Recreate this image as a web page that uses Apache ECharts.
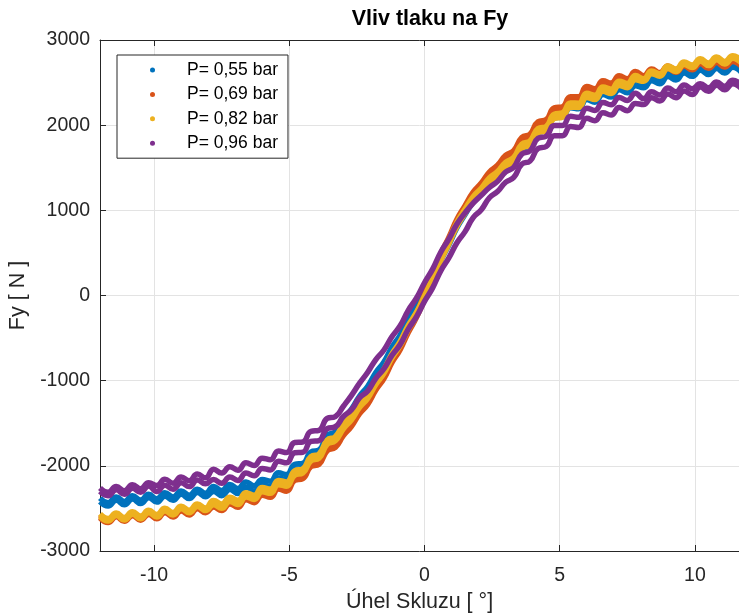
<!DOCTYPE html>
<html>
<head>
<meta charset="utf-8">
<script src="https://cdn.jsdelivr.net/npm/echarts@6/dist/echarts.min.js"></script>
<style>
html,body{margin:0;padding:0;background:#ffffff;}
#chart{width:739px;height:614px;}
</style>
</head>
<body>
<div id="chart"></div>
<script>
// Slip angle sample points [deg]
const slipAngle = [-12,-11.7,-11.4,-11.1,-10.8,-10.5,-10.2,-9.9,-9.6,-9.3,-9,-8.7,-8.4,-8.1,-7.8,-7.5,-7.2,-6.9,-6.6,-6.3,-6,-5.7,-5.4,-5.1,-4.8,-4.5,-4.2,-3.9,-3.6,-3.3,-3,-2.7,-2.4,-2.1,-1.8,-1.5,-1.2,-0.9,-0.6,-0.3,0,0.3,0.6,0.9,1.2,1.5,1.8,2.1,2.4,2.7,3,3.3,3.6,3.9,4.2,4.5,4.8,5.1,5.4,5.7,6,6.3,6.6,6.9,7.2,7.5,7.8,8.1,8.4,8.7,9,9.3,9.6,9.9,10.2,10.5,10.8,11.1,11.4,11.7];

const seriesNames = ['P= 0,55 bar','P= 0,69 bar','P= 0,82 bar','P= 0,96 bar'];

// Fy [N], upper and lower branch of each hysteresis loop
const fy055Up = [-2380,-2432,-2365,-2418,-2350,-2402,-2335,-2386,-2316,-2365,-2295,-2344,-2274,-2323,-2242,-2290,-2218,-2265,-2190,-2235,-2160,-2181,-2082,-2103,-1982,-1970,-1838,-1814,-1646,-1598,-1450,-1335,-1180,-1065,-904,-780,-604,-464,-276,-128,60,244,468,652,856,1010,1156,1254,1376,1454,1570,1626,1782,1818,1970,2000,2144,2156,2264,2252,2360,2330,2420,2390,2476,2440,2524,2478,2562,2526,2610,2571,2652,2613,2686,2635,2704,2652,2719,2665];
const fy055Down = [-2420,-2472,-2405,-2458,-2390,-2442,-2375,-2426,-2356,-2405,-2335,-2384,-2314,-2363,-2302,-2350,-2278,-2325,-2250,-2295,-2220,-2241,-2142,-2163,-2042,-2030,-1898,-1874,-1706,-1658,-1510,-1395,-1240,-1125,-964,-840,-664,-524,-336,-188,0,184,408,592,796,950,1096,1194,1316,1394,1510,1566,1722,1758,1910,1940,2084,2096,2204,2192,2300,2270,2360,2330,2416,2380,2464,2438,2522,2486,2570,2531,2612,2573,2646,2595,2664,2612,2679,2625];

const fy069Up = [-2580,-2634,-2568,-2622,-2555,-2608,-2540,-2592,-2521,-2571,-2500,-2547,-2473,-2520,-2433,-2475,-2397,-2436,-2349,-2382,-2295,-2319,-2223,-2247,-2121,-2100,-1959,-1932,-1773,-1734,-1595,-1486,-1337,-1228,-1061,-925,-737,-585,-385,-209,15,235,487,683,895,1055,1213,1321,1449,1529,1645,1701,1857,1893,2041,2065,2203,2215,2335,2335,2455,2428,2521,2494,2581,2545,2629,2581,2659,2617,2695,2650,2725,2680,2750,2698,2765,2712,2779,2725];
const fy069Down = [-2610,-2664,-2598,-2652,-2585,-2638,-2570,-2622,-2551,-2601,-2530,-2577,-2503,-2550,-2483,-2525,-2447,-2486,-2399,-2432,-2345,-2369,-2273,-2297,-2171,-2150,-2009,-1982,-1823,-1784,-1645,-1536,-1387,-1278,-1111,-975,-787,-635,-435,-259,-35,185,437,633,845,1005,1163,1271,1399,1479,1595,1651,1807,1843,1991,2015,2153,2165,2285,2285,2405,2378,2471,2444,2531,2495,2579,2551,2629,2587,2665,2620,2695,2650,2720,2668,2735,2682,2749,2695];

const fy082Up = [-2565,-2619,-2553,-2607,-2539,-2590,-2521,-2571,-2499,-2547,-2475,-2522,-2448,-2495,-2407,-2448,-2368,-2405,-2315,-2345,-2255,-2273,-2171,-2189,-2059,-2035,-1891,-1861,-1699,-1657,-1515,-1409,-1263,-1157,-995,-865,-683,-539,-351,-199,-5,209,457,653,861,1015,1161,1259,1381,1455,1565,1621,1777,1813,1961,1985,2129,2144,2261,2258,2375,2351,2447,2423,2517,2490,2583,2545,2635,2605,2695,2659,2743,2707,2781,2730,2799,2748,2816,2765];
const fy082Down = [-2595,-2649,-2583,-2637,-2569,-2620,-2551,-2601,-2529,-2577,-2505,-2552,-2478,-2525,-2457,-2498,-2418,-2455,-2365,-2395,-2305,-2323,-2221,-2239,-2109,-2085,-1941,-1911,-1749,-1707,-1565,-1459,-1313,-1207,-1045,-915,-733,-589,-401,-249,-55,159,407,603,811,965,1111,1209,1331,1405,1515,1571,1727,1763,1911,1935,2079,2094,2211,2208,2325,2301,2397,2373,2467,2440,2533,2515,2605,2575,2665,2629,2713,2677,2751,2700,2769,2718,2786,2735];

const fy096Up = [-2260,-2311,-2242,-2293,-2222,-2270,-2198,-2231,-2157,-2204,-2130,-2174,-2097,-2141,-2040,-2085,-2010,-2051,-1964,-1997,-1910,-1928,-1826,-1844,-1726,-1720,-1594,-1583,-1442,-1421,-1300,-1172,-1029,-901,-752,-640,-482,-356,-174,-32,150,310,508,662,840,970,1085,1177,1268,1340,1450,1506,1662,1698,1846,1870,1996,1996,2104,2092,2200,2173,2266,2239,2326,2290,2374,2312,2393,2354,2435,2393,2471,2429,2487,2438,2508,2457,2526,2475];
const fy096Down = [-2300,-2351,-2282,-2333,-2262,-2310,-2238,-2301,-2227,-2274,-2200,-2244,-2167,-2211,-2160,-2205,-2130,-2171,-2084,-2117,-2030,-2048,-1946,-1964,-1846,-1840,-1714,-1703,-1562,-1541,-1420,-1342,-1199,-1121,-972,-860,-702,-576,-394,-252,-70,90,288,442,620,750,915,1007,1148,1220,1330,1386,1542,1578,1726,1750,1876,1876,1984,1972,2080,2053,2146,2119,2206,2170,2254,2242,2323,2284,2365,2323,2401,2359,2447,2398,2468,2417,2486,2435];

const seriesColors = ['#0072BD','#D95319','#EDB120','#7E2F8E'];
const branches = [
  [fy055Down, fy055Up],
  [fy069Down, fy069Up],
  [fy082Down, fy082Up],
  [fy096Down, fy096Up]
];

const FONT = "'Liberation Sans', Arial, Helvetica, sans-serif";
const AX = '#262626';

const series = [];
branches.forEach(function (pair, si) {
  pair.forEach(function (vals) {
    series.push({
      name: seriesNames[si],
      type: 'line',
      xAxisIndex: 0,
      yAxisIndex: 0,
      data: slipAngle.map(function (x, i) { return [x, vals[i]]; }),
      showSymbol: false,
      symbol: 'circle',
      smooth: 0.5,
      clip: true,
      lineStyle: { width: 5.5, color: seriesColors[si] },
      itemStyle: { color: seriesColors[si] },
      emphasis: { disabled: true },
      animation: false
    });
  });
});

const chart = echarts.init(document.getElementById('chart'), null, { renderer: 'canvas' });
chart.setOption({
  animation: false,
  backgroundColor: '#ffffff',
  title: {
    text: 'Vliv tlaku na Fy',
    left: 425,
    top: 3,
    textAlign: 'center',
    textStyle: { fontFamily: FONT, fontSize: 21.5, fontWeight: 'bold', color: '#000000' }
  },
  legend: {
    orient: 'vertical',
    left: 117,
    top: 55,
    padding: [5, 10, 5, 33],
    itemWidth: 5,
    itemHeight: 5,
    itemGap: 4.4,
    icon: 'circle',
    selectedMode: false,
    borderColor: AX,
    borderWidth: 1,
    borderRadius: 0,
    backgroundColor: '#ffffff',
    textStyle: { fontFamily: FONT, fontSize: 17.5, color: '#000000', lineHeight: 20, padding: [0, 0, 0, 27] },
    data: seriesNames
  },
  grid: { left: 100, right: 0, top: 40, bottom: 63, containLabel: false, outerBoundsMode: 'none' },
  xAxis: [
    {
      type: 'value',
      position: 'bottom',
      min: -12,
      max: 11.63,
      name: 'Úhel Skluzu [ °]',
      nameLocation: 'middle',
      nameGap: 38,
      nameTextStyle: { fontFamily: FONT, fontSize: 21.5, color: AX },
      axisLine: { show: true, onZero: false, lineStyle: { color: AX, width: 1 } },
      axisTick: { show: true, inside: true, length: 6, lineStyle: { color: AX } },
      axisLabel: { show: true, showMinLabel: false, showMaxLabel: false, margin: 15, fontFamily: FONT, fontSize: 19.5, color: AX,
        formatter: function (v) { return String(v); } },
      splitLine: { show: true, lineStyle: { color: '#e3e3e3', width: 1 } }
    },
    {
      type: 'value',
      position: 'top',
      min: -12,
      max: 11.63,
      axisLine: { show: true, onZero: false, lineStyle: { color: AX, width: 1 } },
      axisTick: { show: true, inside: true, length: 6, lineStyle: { color: AX } },
      axisLabel: { show: false },
      splitLine: { show: false }
    }
  ],
  yAxis: {
    type: 'value',
    min: -3000,
    max: 3000,
    interval: 1000,
    name: 'Fy [ N ]',
    nameLocation: 'middle',
    nameGap: 71,
    nameTextStyle: { fontFamily: FONT, fontSize: 21.5, color: AX },
    axisLine: { show: true, onZero: false, lineStyle: { color: AX, width: 1 } },
    axisTick: { show: true, inside: true, length: 6, lineStyle: { color: AX } },
    axisLabel: { margin: 10, fontFamily: FONT, fontSize: 19.5, color: AX,
      formatter: function (v) { return String(v); } },
    splitLine: { show: true, lineStyle: { color: '#e3e3e3', width: 1 } }
  },
  series: series
});
</script>
</body>
</html>
